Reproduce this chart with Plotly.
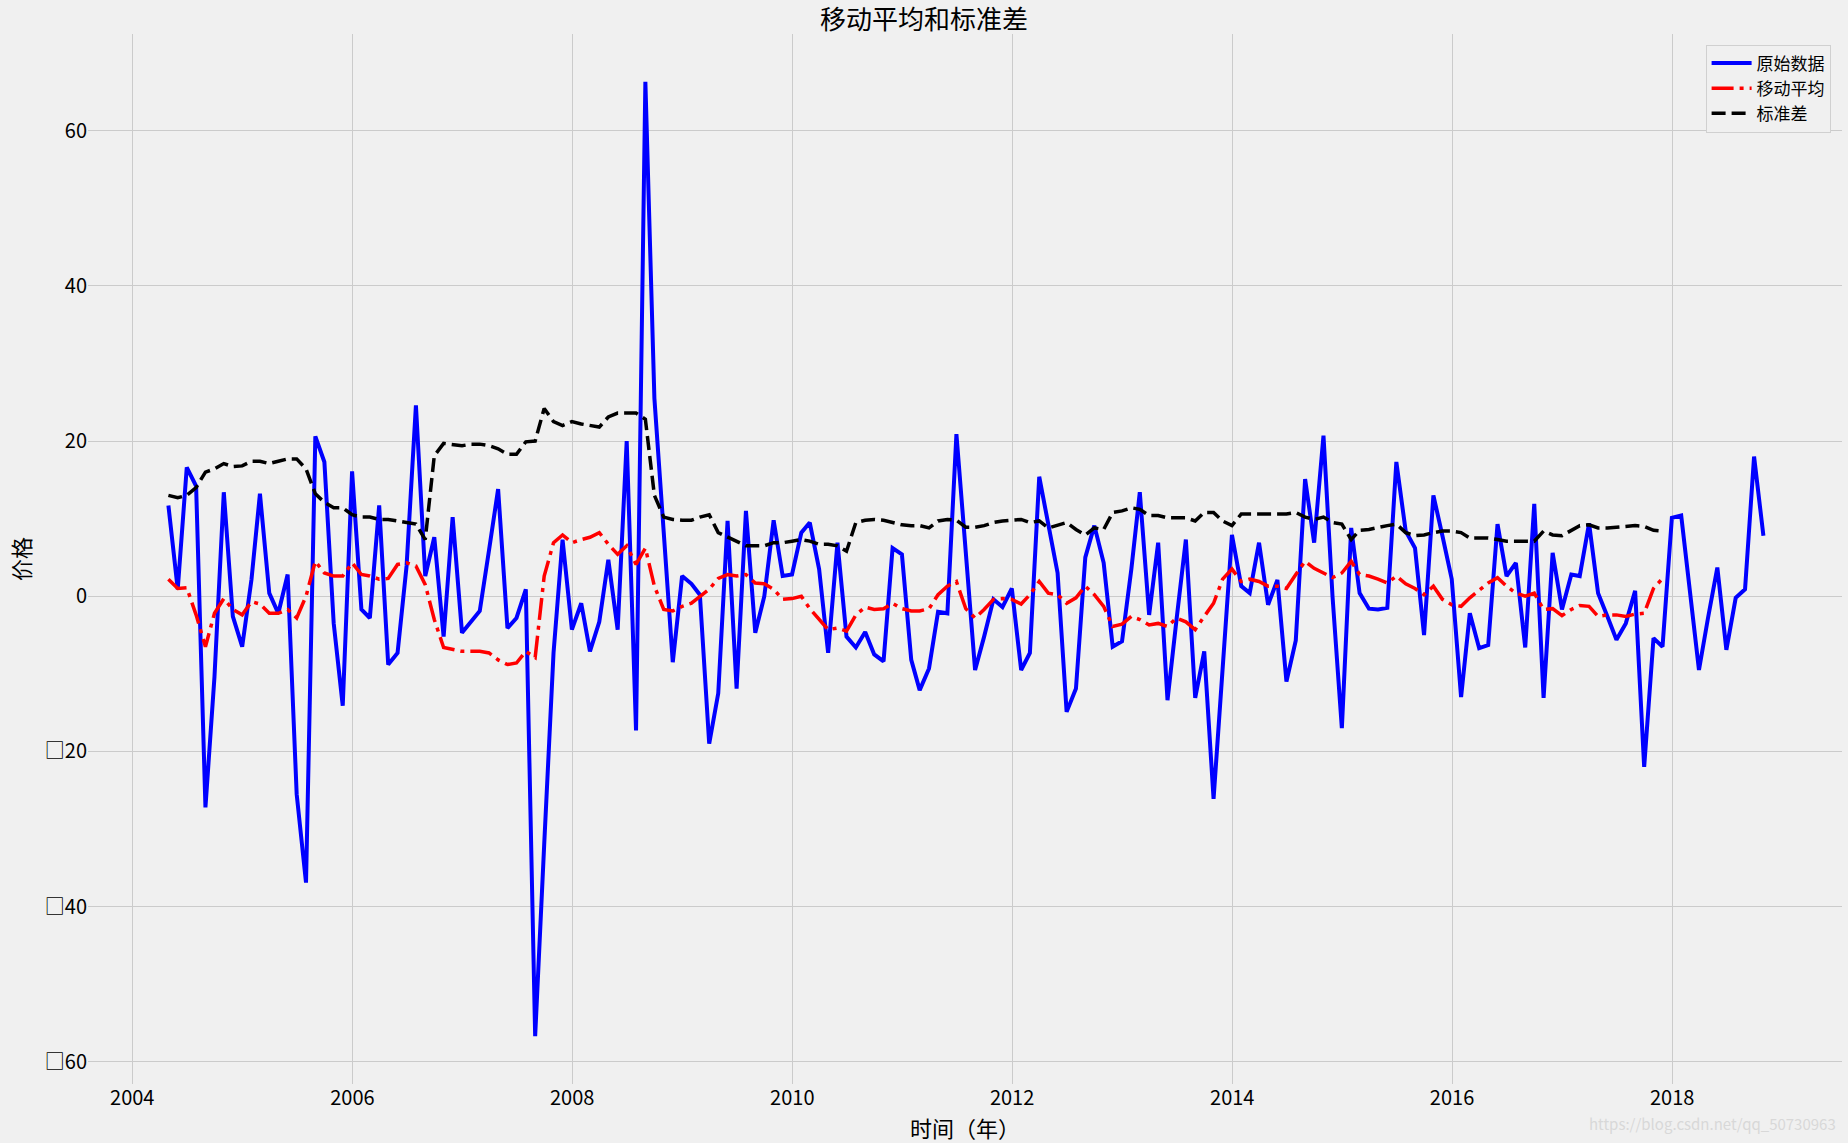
import pandas as pd
import plotly.graph_objects as go

# Monthly dates (month ends) from 2004-04 to 2018-10
dates = pd.date_range("2004-05-01", periods=175, freq="MS") - pd.Timedelta(days=1)

raw_values = [
    11.7, 0.9, 16.6, 14.2, -27.2, -10.4, 13.4, -2.6, -6.5, 2.2,
    13.2, 0.4, -2.2, 2.8, -25.5, -36.9, 20.6, 17.3, -3.5, -14.1,
    16.1, -1.7, -2.8, 11.7, -8.8, -7.3, 3.9, 24.6, 2.6, 7.6,
    -5.2, 10.2, -4.7, -3.3, -1.9, 6.0, 13.8, -4.1, -2.8, 0.9,
    -56.7, -32.0, -7.3, 7.3, -4.3, -0.9, -7.1, -3.3, 4.7, -4.3,
    20.0, -17.3, 66.3, 25.5, 9.0, -8.5, 2.6, 1.6, 0.2, -19.0,
    -12.5, 9.7, -11.9, 11.0, -4.7, 0.0, 9.8, 2.6, 2.8, 8.2,
    9.5, 3.5, -7.3, 6.9, -5.2, -6.6, -4.6, -7.5, -8.4, 6.2,
    5.4, -8.2, -12.1, -9.3, -2.0, -2.2, 20.9, 6.0, -9.5, -5.2,
    -0.4, -1.4, 1.0, -9.5, -7.3, 15.4, 9.0, 3.0, -14.9, -11.9,
    5.0, 9.1, 4.3, -6.5, -5.8, 3.5, 13.4, -2.4, 6.9, -13.4,
    -3.0, 7.3, -13.1, -7.1, -26.1, -9.0, 7.9, 1.3, 0.4, 6.9,
    -1.1, 2.1, -11.0, -5.7, 15.1, 6.9, 20.7, 0.0, -17.0, 8.8,
    0.4, -1.6, -1.7, -1.5, 17.3, 8.4, 6.2, -5.0, 13.0, 7.8,
    2.2, -13.0, -2.2, -6.7, -6.3, 9.3, 2.6, 4.3, -6.6, 11.9,
    -13.1, 5.6, -1.7, 2.8, 2.6, 9.4, 0.4, -2.6, -5.6, -3.5,
    0.7, -22.0, -5.4, -6.5, 10.1, 10.4, 0.9, -9.5, -2.8, 3.7,
    -6.9, -0.2, 0.9, 18.0, 7.8,
]

moving_avg = [
    2.2, 1.0, 1.1, -2.4, -6.5, -2.2, -0.3, -1.7, -2.4, -0.7,
    -1.0, -2.2, -2.2, -1.7, -2.8, 0.0, 4.5, 3.0, 2.6, 2.6,
    4.3, 2.8, 2.6, 2.2, 2.3, 4.1, 4.3, 3.9, 1.5, -3.0,
    -6.6, -6.9, -7.1, -7.1, -7.1, -7.3, -8.2, -8.8, -8.6, -7.1,
    -7.9, 2.6, 6.9, 7.9, 6.9, 7.3, 7.6, 8.2, 6.7, 5.4,
    6.5, 4.1, 6.2, 1.3, -1.7, -1.9, -1.3, -0.9, 0.0, 0.9,
    2.3, 2.8, 2.6, 2.8, 1.7, 1.6, 0.9, -0.4, -0.3, 0.0,
    -1.6, -3.0, -4.3, -4.1, -4.5, -2.4, -1.4, -1.7, -1.6, -0.9,
    -1.6, -1.9, -1.9, -1.6, 0.2, 1.3, 1.9, -1.6, -2.8, -1.7,
    -0.4, -0.3, -0.4, -1.0, 0.2, 1.9, 0.4, 0.2, -0.9, -0.2,
    1.3, 0.2, -1.3, -3.9, -3.6, -2.6, -3.0, -3.7, -3.5, -3.9,
    -2.8, -3.3, -4.3, -2.6, -0.9, 2.2, 3.5, 1.9, 2.2, 1.9,
    1.3, 1.3, 1.0, 2.8, 4.5, 3.6, 3.0, 2.4, 3.0, 4.5,
    2.8, 2.6, 2.2, 1.7, 2.6, 1.6, 1.0, 0.2, 1.3, -0.4,
    -1.1, -1.3, -0.2, 0.7, 1.7, 2.4, 1.3, 0.4, 0.0, 0.4,
    -1.7, -1.6, -2.5, -1.7, -1.2, -1.3, -2.6, -2.4, -2.4, -2.6,
    -2.3, -2.2, 1.0, 2.3,
]

std_values = [
    13.0, 12.7, 13.0, 14.0, 16.0, 16.4, 17.1, 16.7, 16.8, 17.4,
    17.4, 17.1, 17.4, 17.7, 17.7, 16.4, 13.2, 12.1, 11.4, 11.4,
    10.5, 10.2, 10.2, 9.9, 9.9, 9.7, 9.5, 9.3, 7.3, 18.1,
    19.7, 19.6, 19.4, 19.6, 19.6, 19.4, 19.0, 18.3, 18.3, 19.9,
    20.0, 24.2, 22.5, 22.0, 22.5, 22.2, 22.0, 21.8, 23.1, 23.6,
    23.6, 23.6, 22.8, 13.0, 10.2, 9.9, 9.8, 9.8, 10.2, 10.5,
    8.2, 7.6, 7.1, 6.5, 6.5, 6.5, 6.9, 6.9, 7.1, 7.3,
    7.1, 6.7, 6.7, 6.5, 5.8, 9.5, 9.8, 9.9, 9.8, 9.5,
    9.2, 9.1, 9.1, 8.8, 9.7, 9.9, 9.8, 8.9, 8.9, 9.1,
    9.5, 9.7, 9.8, 9.9, 9.5, 9.7, 8.8, 9.1, 9.5, 8.6,
    7.9, 8.8, 8.6, 10.8, 11.0, 11.4, 11.2, 10.4, 10.4, 10.1,
    10.1, 10.1, 9.7, 10.8, 10.8, 9.7, 9.1, 10.6, 10.6, 10.6,
    10.6, 10.6, 10.6, 10.8, 10.2, 9.9, 10.2, 9.5, 9.3, 7.3,
    8.5, 8.6, 8.9, 9.1, 9.3, 8.2, 7.8, 7.9, 8.2, 8.4,
    8.4, 8.2, 7.5, 7.5, 7.5, 7.3, 7.1, 7.1, 7.1, 7.1,
    8.4, 7.9, 7.8, 8.5, 9.1, 9.2, 8.8, 8.8, 8.9, 9.1,
    9.1, 9.0, 8.5, 8.4,
]

y_tick_vals = [-60, -40, -20, 0, 20, 40, 60]
y_tick_text = ["\u25a160", "\u25a140", "\u25a120", "0", "20", "40", "60"]
x_tick_years = [2004, 2006, 2008, 2010, 2012, 2014, 2016, 2018]

FONT = "Noto Sans CJK SC, Noto Sans, sans-serif"
BG = "#f0f0f0"
GRID = "#cbcbcb"

fig = go.Figure()
fig.add_trace(go.Scatter(
    x=dates, y=raw_values, mode="lines", name="原始数据",
    line=dict(color="#0000ff", width=4),
))
fig.add_trace(go.Scatter(
    x=dates[:len(moving_avg)], y=moving_avg, mode="lines", name="移动平均",
    line=dict(color="#ff0000", width=3.5, dash="22px,6px,4px,6px"),
))
fig.add_trace(go.Scatter(
    x=dates[:len(std_values)], y=std_values, mode="lines", name="标准差",
    line=dict(color="#000000", width=3.5, dash="14px,6px"),
))

fig.update_layout(
    width=1848, height=1143,
    paper_bgcolor=BG, plot_bgcolor=BG,
    margin=dict(l=88, r=6, t=34, b=59),
    font=dict(family=FONT, color="#000000", size=20),
    title=dict(text="移动平均和标准差", x=0.5, xanchor="center",
               y=1 - 20 / 1143, yanchor="middle", yref="container",
               font=dict(size=26, family=FONT)),
    showlegend=True,
    legend=dict(x=0.9935, y=0.99, xanchor="right", yanchor="top",
                bgcolor=BG, bordercolor="#d0d0d0", borderwidth=1,
                font=dict(size=17, family=FONT), itemwidth=40,
                tracegroupgap=0),
    xaxis=dict(
        type="date",
        range=["2003-08-07", "2019-07-19"],
        tickvals=[f"{y}-01-01" for y in x_tick_years],
        ticktext=[str(y) for y in x_tick_years],
        showgrid=True, gridcolor=GRID, gridwidth=1.2,
        zeroline=False, showline=False, ticks="",
        tickfont=dict(size=20, family=FONT),
        title=dict(text="时间（年）", font=dict(size=22, family=FONT), standoff=2),
    ),
    yaxis=dict(
        range=[-62.85, 72.45],
        tickvals=y_tick_vals,
        ticktext=y_tick_text,
        showgrid=True, gridcolor=GRID, gridwidth=1.2,
        zeroline=False, showline=False, ticks="",
        tickfont=dict(size=20, family=FONT),
        title=dict(text="价格", font=dict(size=22, family=FONT), standoff=8),
    ),
)

fig.add_annotation(
    text="https://blog.csdn.net/qq_50730963",
    xref="paper", yref="paper", x=0.998, y=-0.038, xanchor="right", yanchor="middle",
    showarrow=False, font=dict(size=15, color="#d8d8d8", family=FONT),
)

fig.write_html("out.html", config={"displayModeBar": False},
               post_script="document.body.style.margin='0';")
